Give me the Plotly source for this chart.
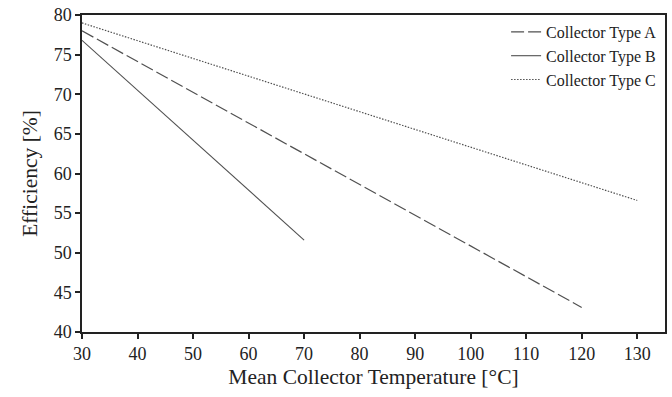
import plotly.graph_objects as go

temp_a = [30, 120]
eff_a = [78.0, 43.1]
temp_b = [30, 70]
eff_b = [76.8, 51.6]
temp_c = [30, 130]
eff_c = [79.0, 56.6]

names = ["Collector Type A", "Collector Type B", "Collector Type C"]
x_ticks = [30, 40, 50, 60, 70, 80, 90, 100, 110, 120, 130]
y_ticks = [40, 45, 50, 55, 60, 65, 70, 75, 80]

font = "Liberation Serif"
col = "#505050"

fig = go.Figure()
fig.add_trace(go.Scatter(x=temp_a, y=eff_a, mode="lines", name=names[0],
                         line=dict(color=col, width=1.2, dash="13px,4px")))
fig.add_trace(go.Scatter(x=temp_b, y=eff_b, mode="lines", name=names[1],
                         line=dict(color=col, width=1.1)))
fig.add_trace(go.Scatter(x=temp_c, y=eff_c, mode="lines", name=names[2],
                         line=dict(color=col, width=1.2, dash="1.5px,1.5px")))

fig.update_layout(
    width=672, height=397,
    margin=dict(l=82, r=5, t=14, b=65),
    paper_bgcolor="white", plot_bgcolor="white",
    font=dict(family=font, size=18, color="#222"),
    legend=dict(x=0.995, y=1.0, xanchor="right", yanchor="top",
                bgcolor="rgba(0,0,0,0)", font=dict(size=16, family=font, color="#222"),
                tracegroupgap=0, itemwidth=30),
    showlegend=True,
)
fig.update_xaxes(range=[30, 135], tickvals=x_ticks, showgrid=False, zeroline=False,
                 showline=True, linecolor="#222", linewidth=1.5, mirror=True,
                 ticks="outside", ticklen=5, tickcolor="#222", tickwidth=1.5,
                 title=dict(text="Mean Collector Temperature [°C]", font=dict(size=21.5, family=font), standoff=6),
                 tickfont=dict(size=18, family=font))
fig.update_yaxes(range=[40, 80], tickvals=y_ticks, showgrid=False, zeroline=False,
                 showline=True, linecolor="#222", linewidth=1.5, mirror=True,
                 ticks="outside", ticklen=5, tickcolor="#222", tickwidth=1.5,
                 title=dict(text="Efficiency [%]", font=dict(size=21.5, family=font), standoff=10),
                 tickfont=dict(size=18, family=font))

fig.write_html("out.html")
